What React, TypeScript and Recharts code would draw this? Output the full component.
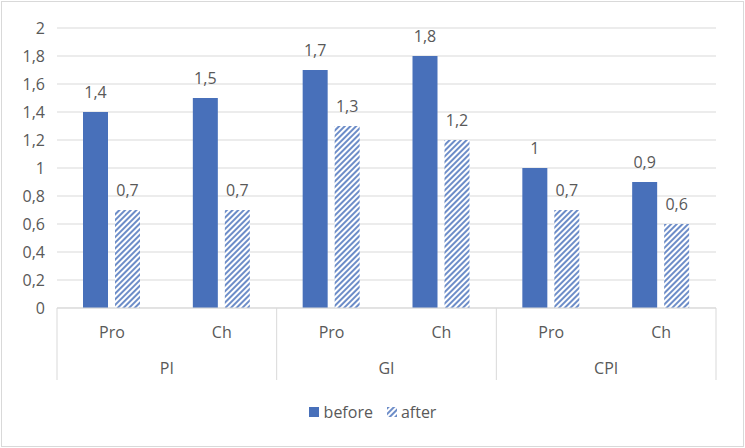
import { BarChart, Bar, XAxis, YAxis, CartesianGrid, Legend, LabelList } from 'recharts';

const categories = ['Pro', 'Ch', 'Pro', 'Ch', 'Pro', 'Ch'];
const groups = ['PI', 'PI', 'GI', 'GI', 'CPI', 'CPI'];
const beforeValues = [1.4, 1.5, 1.7, 1.8, 1.0, 0.9];
const afterValues = [0.7, 0.7, 1.3, 1.2, 0.7, 0.6];
const yTicks = [0, 0.2, 0.4, 0.6, 0.8, 1, 1.2, 1.4, 1.6, 1.8, 2];

const data = categories.map((name, i) => ({
  name,
  group: groups[i],
  before: beforeValues[i],
  after: afterValues[i],
}));

const WIDTH = 745;
const HEIGHT = 448;
const margin = { top: 28, right: 29, left: 0, bottom: 38 };
const Y_WIDTH = 57;
const BLUE = '#4870BA';
const TEXT = '#595959';
const GRID = '#d9d9d9';
const FONT = '"Open Sans", sans-serif';

const plotWidth = WIDTH - margin.left - margin.right - Y_WIDTH;
const band = plotWidth / categories.length;

const fmt = (v: any) => String(v).replace('.', ',');

// one tick per category; every second tick also draws the group label and dividers
const GroupedTick = (props: any) => {
  const { x, y, payload } = props;
  const i = payload.index;
  const base = y - 8;
  const out: any[] = [];
  out.push(
    <text key="c" x={x} y={base + 24} textAnchor="middle" dominantBaseline="central" fill={TEXT} fontSize={16} fontFamily={FONT}>
      {payload.value}
    </text>
  );
  if (i % 2 === 0) {
    out.push(<line key="l" x1={x - band / 2} x2={x - band / 2} y1={base} y2={base + 72} stroke={GRID} />);
    out.push(
      <text key="g" x={x + band / 2} y={base + 60} textAnchor="middle" dominantBaseline="central" fill={TEXT} fontSize={16} fontFamily={FONT}>
        {groups[i]}
      </text>
    );
  }
  if (i === categories.length - 1) {
    out.push(<line key="r" x1={x + band / 2} x2={x + band / 2} y1={base} y2={base + 72} stroke={GRID} />);
  }
  return <g>{out}</g>;
};

const LegendContent = () => (
  <div style={{ display: 'flex', justifyContent: 'center', alignItems: 'center', fontFamily: FONT, fontSize: 16, color: TEXT }}>
    <svg width={10} height={10} style={{ marginRight: 5 }}>
      <rect width={10} height={10} fill={BLUE} />
    </svg>
    <span style={{ marginRight: 14 }}>before</span>
    <svg width={10} height={10} style={{ marginRight: 4 }}>
      <rect width={10} height={10} fill="url(#hatch)" />
    </svg>
    <span>after</span>
  </div>
);

export default function App() {
  return (
    <div style={{ position: 'fixed', left: 0, top: 0, width: WIDTH, height: HEIGHT, background: '#fff' }}>
      <div style={{ position: 'absolute', left: 1, top: 1, width: WIDTH - 4, height: HEIGHT - 4, border: `1px solid ${GRID}` }} />
      <BarChart width={WIDTH} height={HEIGHT} data={data} margin={margin} barSize={25} barGap={7}>
        <defs>
          <pattern id="hatch" patternUnits="userSpaceOnUse" width={4} height={4} patternTransform="rotate(45)">
            <rect width={4} height={4} fill="#fff" />
            <line x1={1} y1={0} x2={1} y2={4} stroke={BLUE} strokeWidth={1.6} />
          </pattern>
        </defs>
        <CartesianGrid vertical={false} stroke={GRID} />
        <XAxis
          dataKey="name"
          interval={0}
          tickLine={false}
          axisLine={{ stroke: GRID }}
          height={80}
          tick={<GroupedTick />}
        />
        <YAxis
          width={Y_WIDTH}
          domain={[0, 2]}
          ticks={yTicks}
          tickFormatter={fmt}
          axisLine={false}
          tickLine={false}
          tickSize={0}
          tickMargin={12}
          tick={{ fill: TEXT, fontSize: 16, fontFamily: FONT }}
        />
        <Legend content={<LegendContent />} wrapperStyle={{ top: 401, left: 0, width: WIDTH }} />
        <Bar dataKey="before" fill={BLUE} isAnimationActive={false}>
          <LabelList dataKey="before" position="top" offset={14} formatter={fmt} fill={TEXT} fontSize={16} fontFamily={FONT} />
        </Bar>
        <Bar dataKey="after" fill="url(#hatch)" isAnimationActive={false}>
          <LabelList dataKey="after" position="top" offset={14} formatter={fmt} fill={TEXT} fontSize={16} fontFamily={FONT} />
        </Bar>
      </BarChart>
    </div>
  );
}
